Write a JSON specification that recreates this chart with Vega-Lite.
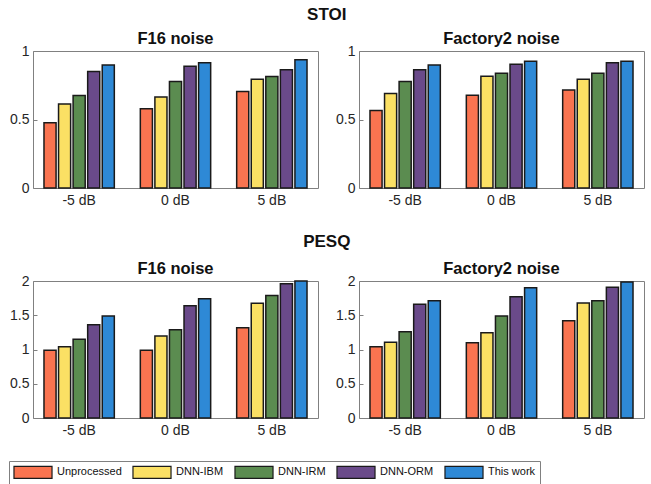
{
  "$schema": "https://vega.github.io/schema/vega-lite/v6.json",
  "background": "white",
  "padding": {"left": 8, "top": 6, "right": 2, "bottom": 3},
  "spacing": 25,
  "data": {"values": [
    {"metric":"STOI","noise":"F16","snr":"-5 dB","method":"Unprocessed","value":0.476},
    {"metric":"STOI","noise":"F16","snr":"-5 dB","method":"DNN-IBM","value":0.614},
    {"metric":"STOI","noise":"F16","snr":"-5 dB","method":"DNN-IRM","value":0.675},
    {"metric":"STOI","noise":"F16","snr":"-5 dB","method":"DNN-ORM","value":0.85},
    {"metric":"STOI","noise":"F16","snr":"-5 dB","method":"This work","value":0.898},
    {"metric":"STOI","noise":"F16","snr":"0 dB","method":"Unprocessed","value":0.578},
    {"metric":"STOI","noise":"F16","snr":"0 dB","method":"DNN-IBM","value":0.665},
    {"metric":"STOI","noise":"F16","snr":"0 dB","method":"DNN-IRM","value":0.777},
    {"metric":"STOI","noise":"F16","snr":"0 dB","method":"DNN-ORM","value":0.888},
    {"metric":"STOI","noise":"F16","snr":"0 dB","method":"This work","value":0.915},
    {"metric":"STOI","noise":"F16","snr":"5 dB","method":"Unprocessed","value":0.704},
    {"metric":"STOI","noise":"F16","snr":"5 dB","method":"DNN-IBM","value":0.794},
    {"metric":"STOI","noise":"F16","snr":"5 dB","method":"DNN-IRM","value":0.813},
    {"metric":"STOI","noise":"F16","snr":"5 dB","method":"DNN-ORM","value":0.864},
    {"metric":"STOI","noise":"F16","snr":"5 dB","method":"This work","value":0.937},
    {"metric":"STOI","noise":"Factory2","snr":"-5 dB","method":"Unprocessed","value":0.566},
    {"metric":"STOI","noise":"Factory2","snr":"-5 dB","method":"DNN-IBM","value":0.689},
    {"metric":"STOI","noise":"Factory2","snr":"-5 dB","method":"DNN-IRM","value":0.777},
    {"metric":"STOI","noise":"Factory2","snr":"-5 dB","method":"DNN-ORM","value":0.864},
    {"metric":"STOI","noise":"Factory2","snr":"-5 dB","method":"This work","value":0.898},
    {"metric":"STOI","noise":"Factory2","snr":"0 dB","method":"Unprocessed","value":0.677},
    {"metric":"STOI","noise":"Factory2","snr":"0 dB","method":"DNN-IBM","value":0.816},
    {"metric":"STOI","noise":"Factory2","snr":"0 dB","method":"DNN-IRM","value":0.837},
    {"metric":"STOI","noise":"Factory2","snr":"0 dB","method":"DNN-ORM","value":0.903},
    {"metric":"STOI","noise":"Factory2","snr":"0 dB","method":"This work","value":0.925},
    {"metric":"STOI","noise":"Factory2","snr":"5 dB","method":"Unprocessed","value":0.716},
    {"metric":"STOI","noise":"Factory2","snr":"5 dB","method":"DNN-IBM","value":0.794},
    {"metric":"STOI","noise":"Factory2","snr":"5 dB","method":"DNN-IRM","value":0.837},
    {"metric":"STOI","noise":"Factory2","snr":"5 dB","method":"DNN-ORM","value":0.915},
    {"metric":"STOI","noise":"Factory2","snr":"5 dB","method":"This work","value":0.925},
    {"metric":"PESQ","noise":"F16","snr":"-5 dB","method":"Unprocessed","value":0.99},
    {"metric":"PESQ","noise":"F16","snr":"-5 dB","method":"DNN-IBM","value":1.04},
    {"metric":"PESQ","noise":"F16","snr":"-5 dB","method":"DNN-IRM","value":1.15},
    {"metric":"PESQ","noise":"F16","snr":"-5 dB","method":"DNN-ORM","value":1.36},
    {"metric":"PESQ","noise":"F16","snr":"-5 dB","method":"This work","value":1.49},
    {"metric":"PESQ","noise":"F16","snr":"0 dB","method":"Unprocessed","value":0.99},
    {"metric":"PESQ","noise":"F16","snr":"0 dB","method":"DNN-IBM","value":1.196},
    {"metric":"PESQ","noise":"F16","snr":"0 dB","method":"DNN-IRM","value":1.29},
    {"metric":"PESQ","noise":"F16","snr":"0 dB","method":"DNN-ORM","value":1.64},
    {"metric":"PESQ","noise":"F16","snr":"0 dB","method":"This work","value":1.74},
    {"metric":"PESQ","noise":"F16","snr":"5 dB","method":"Unprocessed","value":1.317},
    {"metric":"PESQ","noise":"F16","snr":"5 dB","method":"DNN-IBM","value":1.675},
    {"metric":"PESQ","noise":"F16","snr":"5 dB","method":"DNN-IRM","value":1.79},
    {"metric":"PESQ","noise":"F16","snr":"5 dB","method":"DNN-ORM","value":1.96},
    {"metric":"PESQ","noise":"F16","snr":"5 dB","method":"This work","value":2.0},
    {"metric":"PESQ","noise":"Factory2","snr":"-5 dB","method":"Unprocessed","value":1.04},
    {"metric":"PESQ","noise":"Factory2","snr":"-5 dB","method":"DNN-IBM","value":1.107},
    {"metric":"PESQ","noise":"Factory2","snr":"-5 dB","method":"DNN-IRM","value":1.26},
    {"metric":"PESQ","noise":"Factory2","snr":"-5 dB","method":"DNN-ORM","value":1.66},
    {"metric":"PESQ","noise":"Factory2","snr":"-5 dB","method":"This work","value":1.71},
    {"metric":"PESQ","noise":"Factory2","snr":"0 dB","method":"Unprocessed","value":1.10},
    {"metric":"PESQ","noise":"Factory2","snr":"0 dB","method":"DNN-IBM","value":1.244},
    {"metric":"PESQ","noise":"Factory2","snr":"0 dB","method":"DNN-IRM","value":1.49},
    {"metric":"PESQ","noise":"Factory2","snr":"0 dB","method":"DNN-ORM","value":1.77},
    {"metric":"PESQ","noise":"Factory2","snr":"0 dB","method":"This work","value":1.90},
    {"metric":"PESQ","noise":"Factory2","snr":"5 dB","method":"Unprocessed","value":1.42},
    {"metric":"PESQ","noise":"Factory2","snr":"5 dB","method":"DNN-IBM","value":1.68},
    {"metric":"PESQ","noise":"Factory2","snr":"5 dB","method":"DNN-IRM","value":1.71},
    {"metric":"PESQ","noise":"Factory2","snr":"5 dB","method":"DNN-ORM","value":1.91},
    {"metric":"PESQ","noise":"Factory2","snr":"5 dB","method":"This work","value":1.985}
  ]},
  "config": {
    "font": "Liberation Sans",
    "view": {"stroke": "#808080", "strokeWidth": 1},
    "axis": {"labelFont": "Liberation Sans", "labelFontSize": 14, "labelColor": "#262626", "domain": false, "tickColor": "#808080", "tickSize": 4, "labelPadding": 4, "grid": false, "title": null},
    "axisX": {"offset": -4, "labelPadding": 5},
    "axisY": {"offset": -4, "labelPadding": 4},
    "title": {"font": "Liberation Sans", "fontWeight": "bold", "color": "#111"},
    "legend": {"direction": "horizontal", "title": null, "strokeColor": "#808080", "padding": 4, "labelFont": "Liberation Sans", "labelFontSize": 11, "labelColor": "#111", "columnPadding": 8},
    "concat": {"spacing": 16}
  },
  "vconcat": [
    {
      "title": {"text": "STOI", "fontSize": 17, "anchor": "middle", "offset": 6},
      "hconcat": [
        {
          "title": {"text": "F16 noise", "fontSize": 16.5, "offset": -3},
          "width": 285, "height": 137,
          "transform": [{"filter": "datum.metric === 'STOI' && datum.noise === 'F16'"}],
          "mark": {"type": "bar", "stroke": "#1a1a1a", "strokeWidth": 1.5},
          "encoding": {
            "x": {"field": "snr", "type": "nominal", "sort": ["-5 dB", "0 dB", "5 dB"], "scale": {"paddingInner": 0.27, "paddingOuter": 0.114}, "axis": {"labelAngle": 0}},
            "xOffset": {"field": "method", "type": "nominal", "sort": ["Unprocessed", "DNN-IBM", "DNN-IRM", "DNN-ORM", "This work"], "scale": {"paddingInner": 0.17}},
            "y": {"field": "value", "type": "quantitative", "scale": {"domain": [0, 1]}, "axis": {"values": [0, 0.5, 1], "format": "~g"}},
            "color": {"field": "method", "type": "nominal", "scale": {"domain": ["Unprocessed", "DNN-IBM", "DNN-IRM", "DNN-ORM", "This work"], "range": ["#fa7450", "#fbe064", "#5b8c50", "#6a4a8a", "#2e89d6"]}, "legend": {"orient": "none", "legendX": -24, "legendY": 410, "symbolType": "M-3.17,-1H3.17V1H-3.17Z", "symbolSize": 144, "symbolOffset": 13, "labelOffset": 17, "symbolStrokeColor": "#1a1a1a", "symbolStrokeWidth": 1.2, "symbolOpacity": 1}}
          }
        },
        {
          "title": {"text": "Factory2 noise", "fontSize": 16.5, "offset": -3},
          "width": 285, "height": 137,
          "transform": [{"filter": "datum.metric === 'STOI' && datum.noise === 'Factory2'"}],
          "mark": {"type": "bar", "stroke": "#1a1a1a", "strokeWidth": 1.5},
          "encoding": {
            "x": {"field": "snr", "type": "nominal", "sort": ["-5 dB", "0 dB", "5 dB"], "scale": {"paddingInner": 0.27, "paddingOuter": 0.114}, "axis": {"labelAngle": 0}},
            "xOffset": {"field": "method", "type": "nominal", "sort": ["Unprocessed", "DNN-IBM", "DNN-IRM", "DNN-ORM", "This work"], "scale": {"paddingInner": 0.17}},
            "y": {"field": "value", "type": "quantitative", "scale": {"domain": [0, 1]}, "axis": {"values": [0, 0.5, 1], "format": "~g"}},
            "color": {"field": "method", "type": "nominal"}
          }
        }
      ]
    },
    {
      "title": {"text": "PESQ", "fontSize": 17, "anchor": "middle", "offset": 9},
      "hconcat": [
        {
          "title": {"text": "F16 noise", "fontSize": 16.5, "offset": -3},
          "width": 285, "height": 137,
          "transform": [{"filter": "datum.metric === 'PESQ' && datum.noise === 'F16'"}],
          "mark": {"type": "bar", "stroke": "#1a1a1a", "strokeWidth": 1.5},
          "encoding": {
            "x": {"field": "snr", "type": "nominal", "sort": ["-5 dB", "0 dB", "5 dB"], "scale": {"paddingInner": 0.27, "paddingOuter": 0.114}, "axis": {"labelAngle": 0}},
            "xOffset": {"field": "method", "type": "nominal", "sort": ["Unprocessed", "DNN-IBM", "DNN-IRM", "DNN-ORM", "This work"], "scale": {"paddingInner": 0.17}},
            "y": {"field": "value", "type": "quantitative", "scale": {"domain": [0, 2]}, "axis": {"values": [0, 0.5, 1, 1.5, 2], "format": "~g"}},
            "color": {"field": "method", "type": "nominal"}
          }
        },
        {
          "title": {"text": "Factory2 noise", "fontSize": 16.5, "offset": -3},
          "width": 285, "height": 137,
          "transform": [{"filter": "datum.metric === 'PESQ' && datum.noise === 'Factory2'"}],
          "mark": {"type": "bar", "stroke": "#1a1a1a", "strokeWidth": 1.5},
          "encoding": {
            "x": {"field": "snr", "type": "nominal", "sort": ["-5 dB", "0 dB", "5 dB"], "scale": {"paddingInner": 0.27, "paddingOuter": 0.114}, "axis": {"labelAngle": 0}},
            "xOffset": {"field": "method", "type": "nominal", "sort": ["Unprocessed", "DNN-IBM", "DNN-IRM", "DNN-ORM", "This work"], "scale": {"paddingInner": 0.17}},
            "y": {"field": "value", "type": "quantitative", "scale": {"domain": [0, 2]}, "axis": {"values": [0, 0.5, 1, 1.5, 2], "format": "~g"}},
            "color": {"field": "method", "type": "nominal"}
          }
        }
      ]
    }
  ]
}
